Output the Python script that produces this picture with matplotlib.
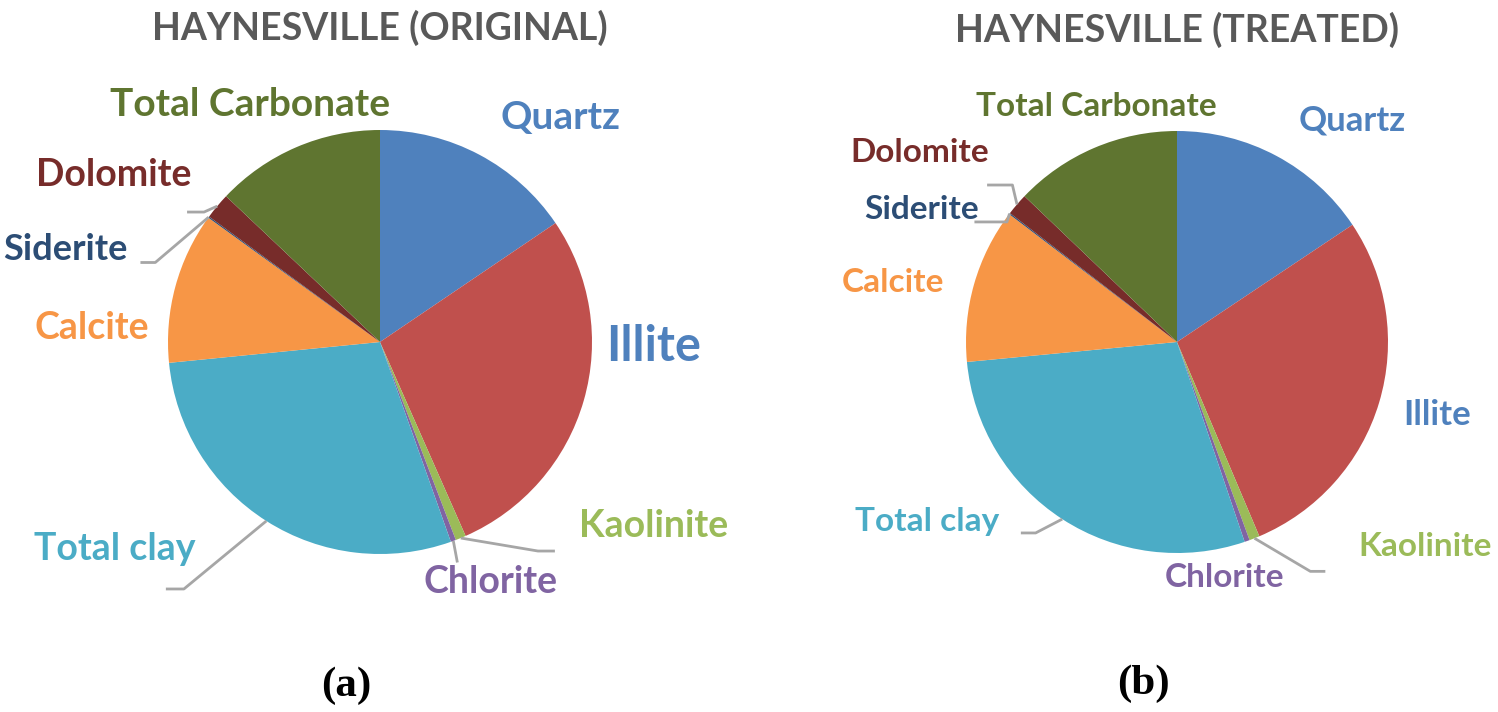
import numpy as np
import matplotlib.pyplot as plt

minerals = ['Quartz', 'Illite', 'Kaolinite', 'Chlorite', 'Total clay',
            'Calcite', 'Siderite', 'Dolomite', 'Total Carbonate']
original = [15.6, 28.0, 0.8, 0.4, 29.0, 11.6, 0.1, 2.0, 13.0]
treated = [15.8, 28.3, 0.8, 0.4, 29.0, 12.0, 0.1, 1.7, 13.0]

colors = ['#4F81BD', '#C0504D', '#9BBB59', '#8064A2', '#4BACC6',
          '#F79646', '#2C4D75', '#772C2A', '#5F7530']
label_colors = ['#4F81BD', '#4F81BD', '#9BBB59', '#8064A2', '#4BACC6',
                '#F79646', '#2C4D75', '#772C2A', '#5F7530']

plt.rcParams['font.family'] = ['Lato', 'DejaVu Sans']

# label positions (data units, pie radius = 1), font size; leader elbows
left_labels = {
    'Quartz': (0.85, 1.057, 28),
    'Illite': (1.29, -0.02, 35),
    'Kaolinite': (1.29, -0.87, 27),
    'Chlorite': (0.52, -1.13, 27),
    'Total clay': (-1.25, -0.976, 27),
    'Calcite': (-1.358, 0.066, 27),
    'Siderite': (-1.486, 0.434, 26),
    'Dolomite': (-1.255, 0.788, 27),
    'Total Carbonate': (-0.613, 1.118, 28),
}
left_leaders = {
    'Kaolinite': [(0.745, -0.986), (0.825, -0.986)],
    'Chlorite': [(0.365, -1.04)],
    'Total clay': [(-0.925, -1.165), (-1.01, -1.165)],
    'Siderite': [(-1.06, 0.375), (-1.13, 0.375)],
    'Dolomite': [(-0.83, 0.613), (-0.91, 0.613)],
}
right_labels = {
    'Quartz': (0.83, 1.052, 25),
    'Illite': (1.232, -0.346, 25),
    'Kaolinite': (1.175, -0.967, 24),
    'Chlorite': (0.227, -1.118, 24),
    'Total clay': (-1.185, -0.853, 24),
    'Calcite': (-1.346, 0.284, 24),
    'Siderite': (-1.213, 0.626, 24),
    'Dolomite': (-1.218, 0.896, 24),
    'Total Carbonate': (-0.384, 1.114, 24),
}
right_leaders = {
    'Kaolinite': [(0.632, -1.087), (0.703, -1.087)],
    'Total clay': [(-0.67, -0.905), (-0.74, -0.905)],
    'Siderite': [(-0.806, 0.569), (-0.96, 0.569)],
    'Dolomite': [(-0.78, 0.744), (-0.83, 0.744), (-0.9, 0.744)],
}


def draw_pie(ax, values, labels, leaders, title, tag):
    ax.pie(values, colors=colors, startangle=90, counterclock=False,
           radius=1, wedgeprops=dict(linewidth=0))
    ax.set_xlim(-1, 1)
    ax.set_ylim(-1, 1)
    total = sum(values)
    angle = 90.0
    for name, v, lc in zip(minerals, values, label_colors):
        span = 360.0 * v / total
        mid = np.deg2rad(angle - span / 2)
        angle -= span
        x, y, fs = labels[name]
        if name in leaders:
            pts = [(np.cos(mid), np.sin(mid))] + leaders[name]
            xs, ys = zip(*pts)
            ax.plot(xs, ys, color='#A6A6A6', lw=2, clip_on=False,
                    solid_capstyle='butt')
        ax.text(x, y, name, color=lc, fontsize=fs, fontweight='bold',
                ha='center', va='center', clip_on=False)
    ax.text(0, 1.48, title, color='#595959', fontsize=27, fontweight='bold',
            ha='center', va='center')
    ax.text(-0.16, -1.62, tag, color='black', fontsize=31, fontweight='bold',
            family='Liberation Serif', ha='center', va='center')


fig = plt.figure(figsize=(14.98, 7.12), dpi=100)
ax1 = fig.add_axes([168 / 1498, (712 - 554) / 712, 424 / 1498, 424 / 712])
ax2 = fig.add_axes([966 / 1498, (712 - 553) / 712, 422 / 1498, 422 / 712])
draw_pie(ax1, original, left_labels, left_leaders,
         'HAYNESVILLE (ORIGINAL)', '(a)')
draw_pie(ax2, treated, right_labels, right_leaders,
         'HAYNESVILLE (TREATED)', '(b)')
fig.savefig('out.png', dpi=100)
